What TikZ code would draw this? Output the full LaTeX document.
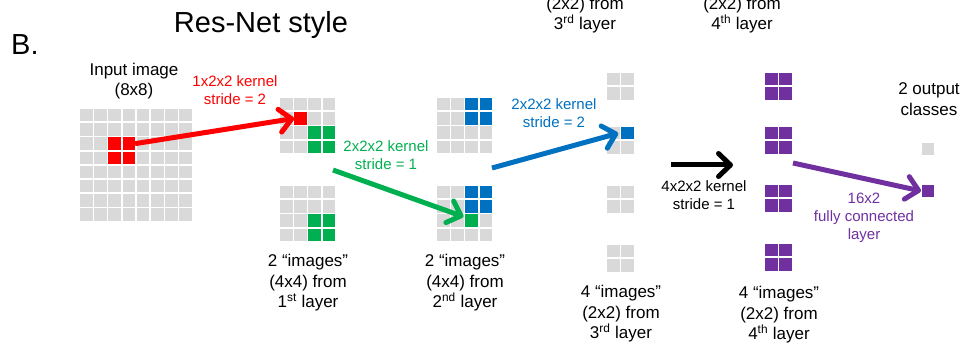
\documentclass[tikz,border=0pt]{standalone}
\usepackage{fontspec}
\setmainfont{Liberation Sans}
\usetikzlibrary{arrows.meta}

\definecolor{cellgray}{HTML}{D9D9D9}
\definecolor{kred}{HTML}{FF0000}
\definecolor{kgreen}{HTML}{00B050}
\definecolor{kblue}{HTML}{0070C0}
\definecolor{kpurple}{HTML}{7030A0}

% n x n grid of grey cells, named <name>-<col>-<row>, top-left corner at (x,y)
\newcommand\cellgrid[4]{%
  \foreach \c in {1,...,#4}{%
    \foreach \r in {1,...,#4}{%
      \node[cell] (#1-\c-\r) at ({#2+(\c-1)*14.2},{#3+(\r-1)*14.2}) {};}}}
% recolour a list of cells
\newcommand\paint[2]{%
  \foreach \p in {#2}{\fill[#1] (\p.north west) rectangle (\p.south east);}}

\tikzset{
  cell/.style={minimum size=12.5pt, inner sep=0pt, outer sep=0pt,
    fill=cellgray, anchor=north west},
  lbl/.style={align=center, inner sep=0pt, font=\fontsize{17}{20.5}\selectfont},
  klbl/.style={align=center, inner sep=0pt, font=\fontsize{15}{18}\selectfont},
  big/.style={inner sep=0pt, font=\fontsize{29}{34}\selectfont},
  flow/.style={line width=5pt, -{Straight Barb[length=12pt,width=23pt,round]}},
}

\begin{document}
\begin{tikzpicture}[x=1pt, y=-1pt]
\useasboundingbox (0,0) rectangle (963,347);

% headings
\node[big, anchor=base west] (panel) at (11,55) {B.};
\node[big, anchor=base] (title) at (261,33) {Res-Net style};

% input image
\cellgrid{in}{80}{109}{8}
\paint{kred}{in-3-3,in-4-3,in-3-4,in-4-4}
\node[lbl] (inlbl) at (134,81) {Input image\\(8x8)};

% first layer
\cellgrid{La}{280}{98}{4}
\cellgrid{Lb}{280}{186}{4}
\paint{kred}{La-2-2}
\paint{kgreen}{La-3-3,La-4-3,La-3-4,La-4-4,Lb-3-3,Lb-4-3,Lb-3-4,Lb-4-4}
\node[lbl] (Llbl) at (308,283) {2 “images”\\(4x4) from\\1\textsuperscript{st} layer};

% second layer
\cellgrid{Ma}{437}{98}{4}
\cellgrid{Mb}{437}{186}{4}
\paint{kblue}{Ma-3-1,Ma-4-1,Ma-3-2,Ma-4-2,Mb-3-1,Mb-4-1,Mb-3-2,Mb-4-2}
\paint{kgreen}{Mb-3-3}
\node[lbl] (Mlbl) at (465,283) {2 “images”\\(4x4) from\\2\textsuperscript{nd} layer};

% third layer
\cellgrid{Na}{607}{73}{2}
\cellgrid{Nb}{607}{127}{2}
\cellgrid{Nc}{607}{186}{2}
\cellgrid{Nd}{607}{245}{2}
\paint{kblue}{Nb-2-1}
\node[lbl] (Ntop) at (585,15) {(2x2) from\\3\textsuperscript{rd} layer};
\node[lbl] (Nlbl) at (621,314) {4 “images”\\(2x2) from\\3\textsuperscript{rd} layer};

% fourth layer
\cellgrid{Pa}{765}{73}{2}
\cellgrid{Pb}{765}{127}{2}
\cellgrid{Pc}{765}{185}{2}
\cellgrid{Pd}{765}{244}{2}
\paint{kpurple}{Pa-1-1,Pa-2-1,Pa-1-2,Pa-2-2,Pb-1-1,Pb-2-1,Pb-1-2,Pb-2-2,
  Pc-1-1,Pc-2-1,Pc-1-2,Pc-2-2,Pd-1-1,Pd-2-1,Pd-1-2,Pd-2-2}
\node[lbl] (Ptop) at (742,15) {(2x2) from\\4\textsuperscript{th} layer};
\node[lbl] (Plbl) at (779,315) {4 “images”\\(2x2) from\\4\textsuperscript{th} layer};

% output classes
\node[cell, minimum size=12pt] (outA) at (922,143) {};
\node[cell, minimum size=12pt, fill=kpurple] (outB) at (922,185) {};
\node[lbl] (outlbl) at (929,99) {2 output\\classes};

% kernel labels
\node[klbl, text=kred] (redlbl) at (235,90) {1x2x2 kernel\\stride = 2};
\node[klbl, text=kgreen] (greenlbl) at (386,155) {2x2x2 kernel\\stride = 1};
\node[klbl, text=kblue] (bluelbl) at (554,113) {2x2x2 kernel\\stride = 2};
\node[klbl] (blacklbl) at (704,195) {4x2x2 kernel\\stride = 1};
\node[klbl, text=kpurple] (purplelbl) at (864,218) {16x2\\fully connected\\layer};

% connector end points
\coordinate (gs) at (333,170);
\coordinate (bs) at (492,168);
\coordinate (ks) at (671,165);
\coordinate (ke) at (733,165);
\coordinate (ps) at (793,163);

% arrows
\draw[flow, kred] (in-4-3.east) -- (La-2-2.west);
\draw[flow, kgreen] (gs) -- ([xshift=-2pt,yshift=4pt]Mb-3-3.west);
\draw[flow, kblue] (bs) -- ([xshift=-3pt]Nb-2-1.west);
\draw[flow, black] (ks) -- (ke);
\draw[flow, kpurple] (ps) -- ([xshift=-1pt]outB.west);
\end{tikzpicture}
\end{document}
